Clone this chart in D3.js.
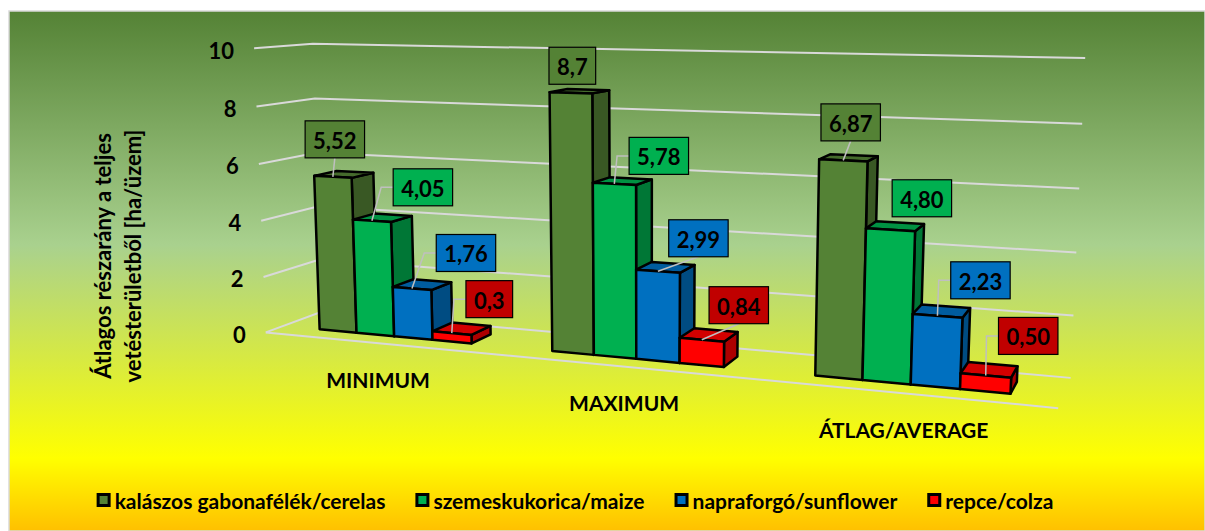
<!DOCTYPE html>
<html><head><meta charset="utf-8">
<script src="https://cdn.jsdelivr.net/npm/d3@7"></script>
<style>html,body{margin:0;padding:0;background:#fff;} svg{display:block;font-family:Lato,'Open Sans',sans-serif;}</style>
</head><body><svg id="c" width="1205" height="531"></svg>
<script>
// ---------------- data ----------------
const categories = ["MINIMUM", "MAXIMUM", "ÁTLAG/AVERAGE"];
const seriesNames = ["kalászos gabonafélék/cerelas", "szemeskukorica/maize", "napraforgó/sunflower", "repce/colza"];
const cereals = [5.52, 8.7, 6.87];
const maize = [4.05, 5.78, 4.80];
const sunflower = [1.76, 2.99, 2.23];
const colza = [0.3, 0.84, 0.50];
const cerealsLabels = ["5,52", "8,7", "6,87"];
const maizeLabels = ["4,05", "5,78", "4,80"];
const sunflowerLabels = ["1,76", "2,99", "2,23"];
const colzaLabels = ["0,3", "0,84", "0,50"];
const yTicks = [0, 2, 4, 6, 8, 10];
const yTickLabels = ["0", "2", "4", "6", "8", "10"];
const axisTitle = ["Átlagos részarány a teljes", "vetésterületből [ha/üzem]"];

// ---------------- layout / style ----------------
const W = 1205, H = 531;
const seriesValues = [cereals, maize, sunflower, colza];
const seriesLabels = [cerealsLabels, maizeLabels, sunflowerLabels, colzaLabels];
const frontColors = ["#548235", "#00b050", "#0070c0", "#ff0000"];
const labelFills = ["#548235", "#00b050", "#0070c0", "#c00000"];
// label box offsets from bar front-top centre [dx, dy, leader]
const labelLayout = [
  [[2, -37.5, "v"], [1.5, -27, "n"], [7.5, -38, "v"]],
  [[51, -33.5, "e"], [44.5, -28, "e"], [31.5, -31.5, "n"]],
  [[54, -35.5, "e"], [40.5, -33, "v"], [43, -35.5, "e"]],
  [[37.5, -34, "e"], [37, -34.5, "v"], [42.5, -39.5, "e"]]
];
// 3D frame calibration: world (X, value, Z) -> screen px (corners of the plot cube)
const frameCalib = [
  [0, 10, 1, 315, 44], [1, 10, 1, 1085, 58], [0, 0, 1, 320, 312], [1, 0, 1, 1071, 377],
  [0, 0, 0, 268, 332], [1, 0, 0, 1058, 409], [0, 10, 0, 252, 48]
];
const barDepth = [0.3, 0.7];

// ---------------- scales ----------------
const yScale = d3.scaleLinear().domain([0, 10]).range([0, 1]);
const xCat = d3.scaleBand().domain(categories).range([0, 1]);
const xSer = d3.scaleBand().domain(d3.range(seriesNames.length)).range([0, xCat.bandwidth()]).paddingInner(0).paddingOuter(1);

// ---------------- projection (DLT) ----------------
const CX = 640, CY = 230, S = 400;
function solveProjection(pts) {
  const rows = [], rhs = [];
  pts.forEach(([X, V, Z, u, v]) => {
    const Y = yScale(V);
    const uu = (u - CX) / S, vv = (v - CY) / S;
    rows.push([X, Y, Z, 1, 0, 0, 0, 0, -uu * X, -uu * Y, -uu * Z]); rhs.push(uu);
    rows.push([0, 0, 0, 0, X, Y, Z, 1, -vv * X, -vv * Y, -vv * Z]); rhs.push(vv);
  });
  const n = 11;
  const M = d3.range(n).map(() => new Array(n + 1).fill(0));
  rows.forEach((r, k) => {
    for (let i = 0; i < n; i++) {
      for (let j = 0; j < n; j++) M[i][j] += r[i] * r[j];
      M[i][n] += r[i] * rhs[k];
    }
  });
  for (let c = 0; c < n; c++) {
    let p = c;
    for (let r = c + 1; r < n; r++) if (Math.abs(M[r][c]) > Math.abs(M[p][c])) p = r;
    [M[c], M[p]] = [M[p], M[c]];
    for (let r = 0; r < n; r++) {
      if (r === c) continue;
      const f = M[r][c] / M[c][c];
      for (let j = c; j <= n; j++) M[r][j] -= f * M[c][j];
    }
  }
  return d3.range(n).map(i => M[i][n] / M[i][i]);
}
const P = solveProjection(frameCalib);
function project(X, Y, Z) {
  const w = P[8] * X + P[9] * Y + P[10] * Z + 1;
  const u = (P[0] * X + P[1] * Y + P[2] * Z + P[3]) / w;
  const v = (P[4] * X + P[5] * Y + P[6] * Z + P[7]) / w;
  return [u * S + CX, v * S + CY];
}

// ---------------- drawing ----------------
const svg = d3.select("#c");
const defs = svg.append("defs");
const grad = defs.append("linearGradient").attr("id", "bg").attr("x1", 0).attr("y1", 0).attr("x2", 0).attr("y2", 1);
[[0, "#548235"], [0.45, "#a9d18e"], [0.86, "#ffff00"], [1, "#ffc000"]].forEach(([o, c]) =>
  grad.append("stop").attr("offset", o).attr("stop-color", c));
svg.append("rect").attr("x", 9).attr("y", 11).attr("width", W - 9).attr("height", H - 11)
  .attr("fill", "url(#bg)").attr("stroke", "#d9d9d9").attr("stroke-width", 1.5);

const line = d3.line();
const grid = svg.append("g").attr("fill", "none").attr("stroke", "#d9d9d9").attr("stroke-width", 2);
yTicks.forEach(t => {
  const y = yScale(t);
  grid.append("path").attr("d", line([project(0, y, 0), project(0, y, 1), project(1, y, 1)]));
});
grid.append("path").attr("d", line([project(0, 0, 0), project(1, 0, 0)]));

// tick labels
const tickG = svg.append("g").attr("font-weight", "bold").attr("font-size", 22).attr("fill", "#000");
yTicks.forEach((t, i) => {
  const [x, y] = project(0, yScale(t), 0);
  tickG.append("text").attr("x", x - 20).attr("y", y + 2).attr("text-anchor", "end")
    .attr("dominant-baseline", "central").text(yTickLabels[i]);
});

// axis title
const titleG = svg.append("g").attr("font-weight", "bold").attr("font-size", 22).attr("fill", "#000");
axisTitle.forEach((t, i) => {
  titleG.append("text").attr("transform", `translate(${102 + i * 30},256) rotate(-90)`)
    .attr("text-anchor", "middle").attr("dominant-baseline", "central").text(t);
});

// bars
const barsG = svg.append("g").attr("stroke", "#000").attr("stroke-width", 2.5).attr("stroke-linejoin", "round");
const [z0, z1] = barDepth;
categories.forEach((cat, ci) => {
  seriesValues.forEach((vals, si) => {
    const x0 = xCat(cat) + xSer(si), x1 = x0 + xSer.bandwidth();
    const h = yScale(vals[ci]);
    const base = d3.color(frontColors[si]);
    const side = [[x1, 0, z0], [x1, 0, z1], [x1, h, z1], [x1, h, z0]];
    const top = [[x0, h, z0], [x1, h, z0], [x1, h, z1], [x0, h, z1]];
    const front = [[x0, 0, z0], [x1, 0, z0], [x1, h, z0], [x0, h, z0]];
    const poly = pts => line(pts.map(p => project(...p))) + "Z";
    barsG.append("path").attr("d", poly(side)).attr("fill", base.darker(1.1));
    barsG.append("path").attr("d", poly(top)).attr("fill", base.darker(0.55));
    barsG.append("path").attr("d", poly(front)).attr("fill", base);
  });
});

// data labels
const labG = svg.append("g");
categories.forEach((cat, ci) => {
  seriesValues.forEach((vals, si) => {
    const xc = xCat(cat) + xSer(si) + xSer.bandwidth() / 2;
    const [ax, ay] = project(xc, yScale(vals[ci]), z0);
    const [dx, dy, lead] = labelLayout[si][ci];
    const cxp = ax + dx, cyp = ay + dy;
    const t = labG.append("text").attr("font-weight", "bold").attr("font-size", 22)
      .attr("text-anchor", "middle").attr("dominant-baseline", "central")
      .attr("x", cxp).attr("y", cyp + 1).text(seriesLabels[si][ci]);
    const tw = t.node().getComputedTextLength();
    const bw = tw + 16, bh = 37;
    const bx = cxp - bw / 2, by = cyp - bh / 2;
    if (lead === "v") {
      labG.insert("path", "text").attr("d", line([[ax, ay], [cxp, by + bh]]))
        .attr("fill", "none").attr("stroke", "#bfbfbf").attr("stroke-width", 1.5);
    } else if (lead === "e") {
      labG.insert("path", "text").attr("d", line([[ax, ay], [bx - 12, cyp], [bx, cyp]]))
        .attr("fill", "none").attr("stroke", "#bfbfbf").attr("stroke-width", 1.5);
    }
    labG.insert("rect", "text").attr("x", bx).attr("y", by).attr("width", bw).attr("height", bh)
      .attr("fill", labelFills[si]).attr("stroke", "#000").attr("stroke-width", 1.2);
    t.raise();
  });
});

// category labels
const catG = svg.append("g").attr("font-weight", "bold").attr("font-size", 21).attr("fill", "#000");
categories.forEach(cat => {
  const [x, y] = project(xCat(cat) + xCat.bandwidth() / 2, 0, 0);
  catG.append("text").attr("x", x).attr("y", y + 36).attr("text-anchor", "middle")
    .attr("dominant-baseline", "central").text(cat);
});

// legend
const legG = svg.append("g").attr("font-weight", "bold").attr("font-size", 21);
const items = seriesNames.map((name, i) => {
  const g = legG.append("g");
  g.append("rect").attr("width", 11).attr("height", 11).attr("x", 1.5).attr("y", -5.5)
    .attr("fill", frontColors[i]).attr("stroke", "#000").attr("stroke-width", 3);
  const t = g.append("text").attr("x", 18).attr("y", 0).attr("dominant-baseline", "central").text(name);
  return { g, w: 18 + t.node().getComputedTextLength() };
});
const gap = 30;
const total = d3.sum(items, d => d.w) + gap * (items.length - 1);
let lx = 575 - total / 2;
items.forEach(it => { it.g.attr("transform", `translate(${lx},500)`); lx += it.w + gap; });
</script>
</body></html>
